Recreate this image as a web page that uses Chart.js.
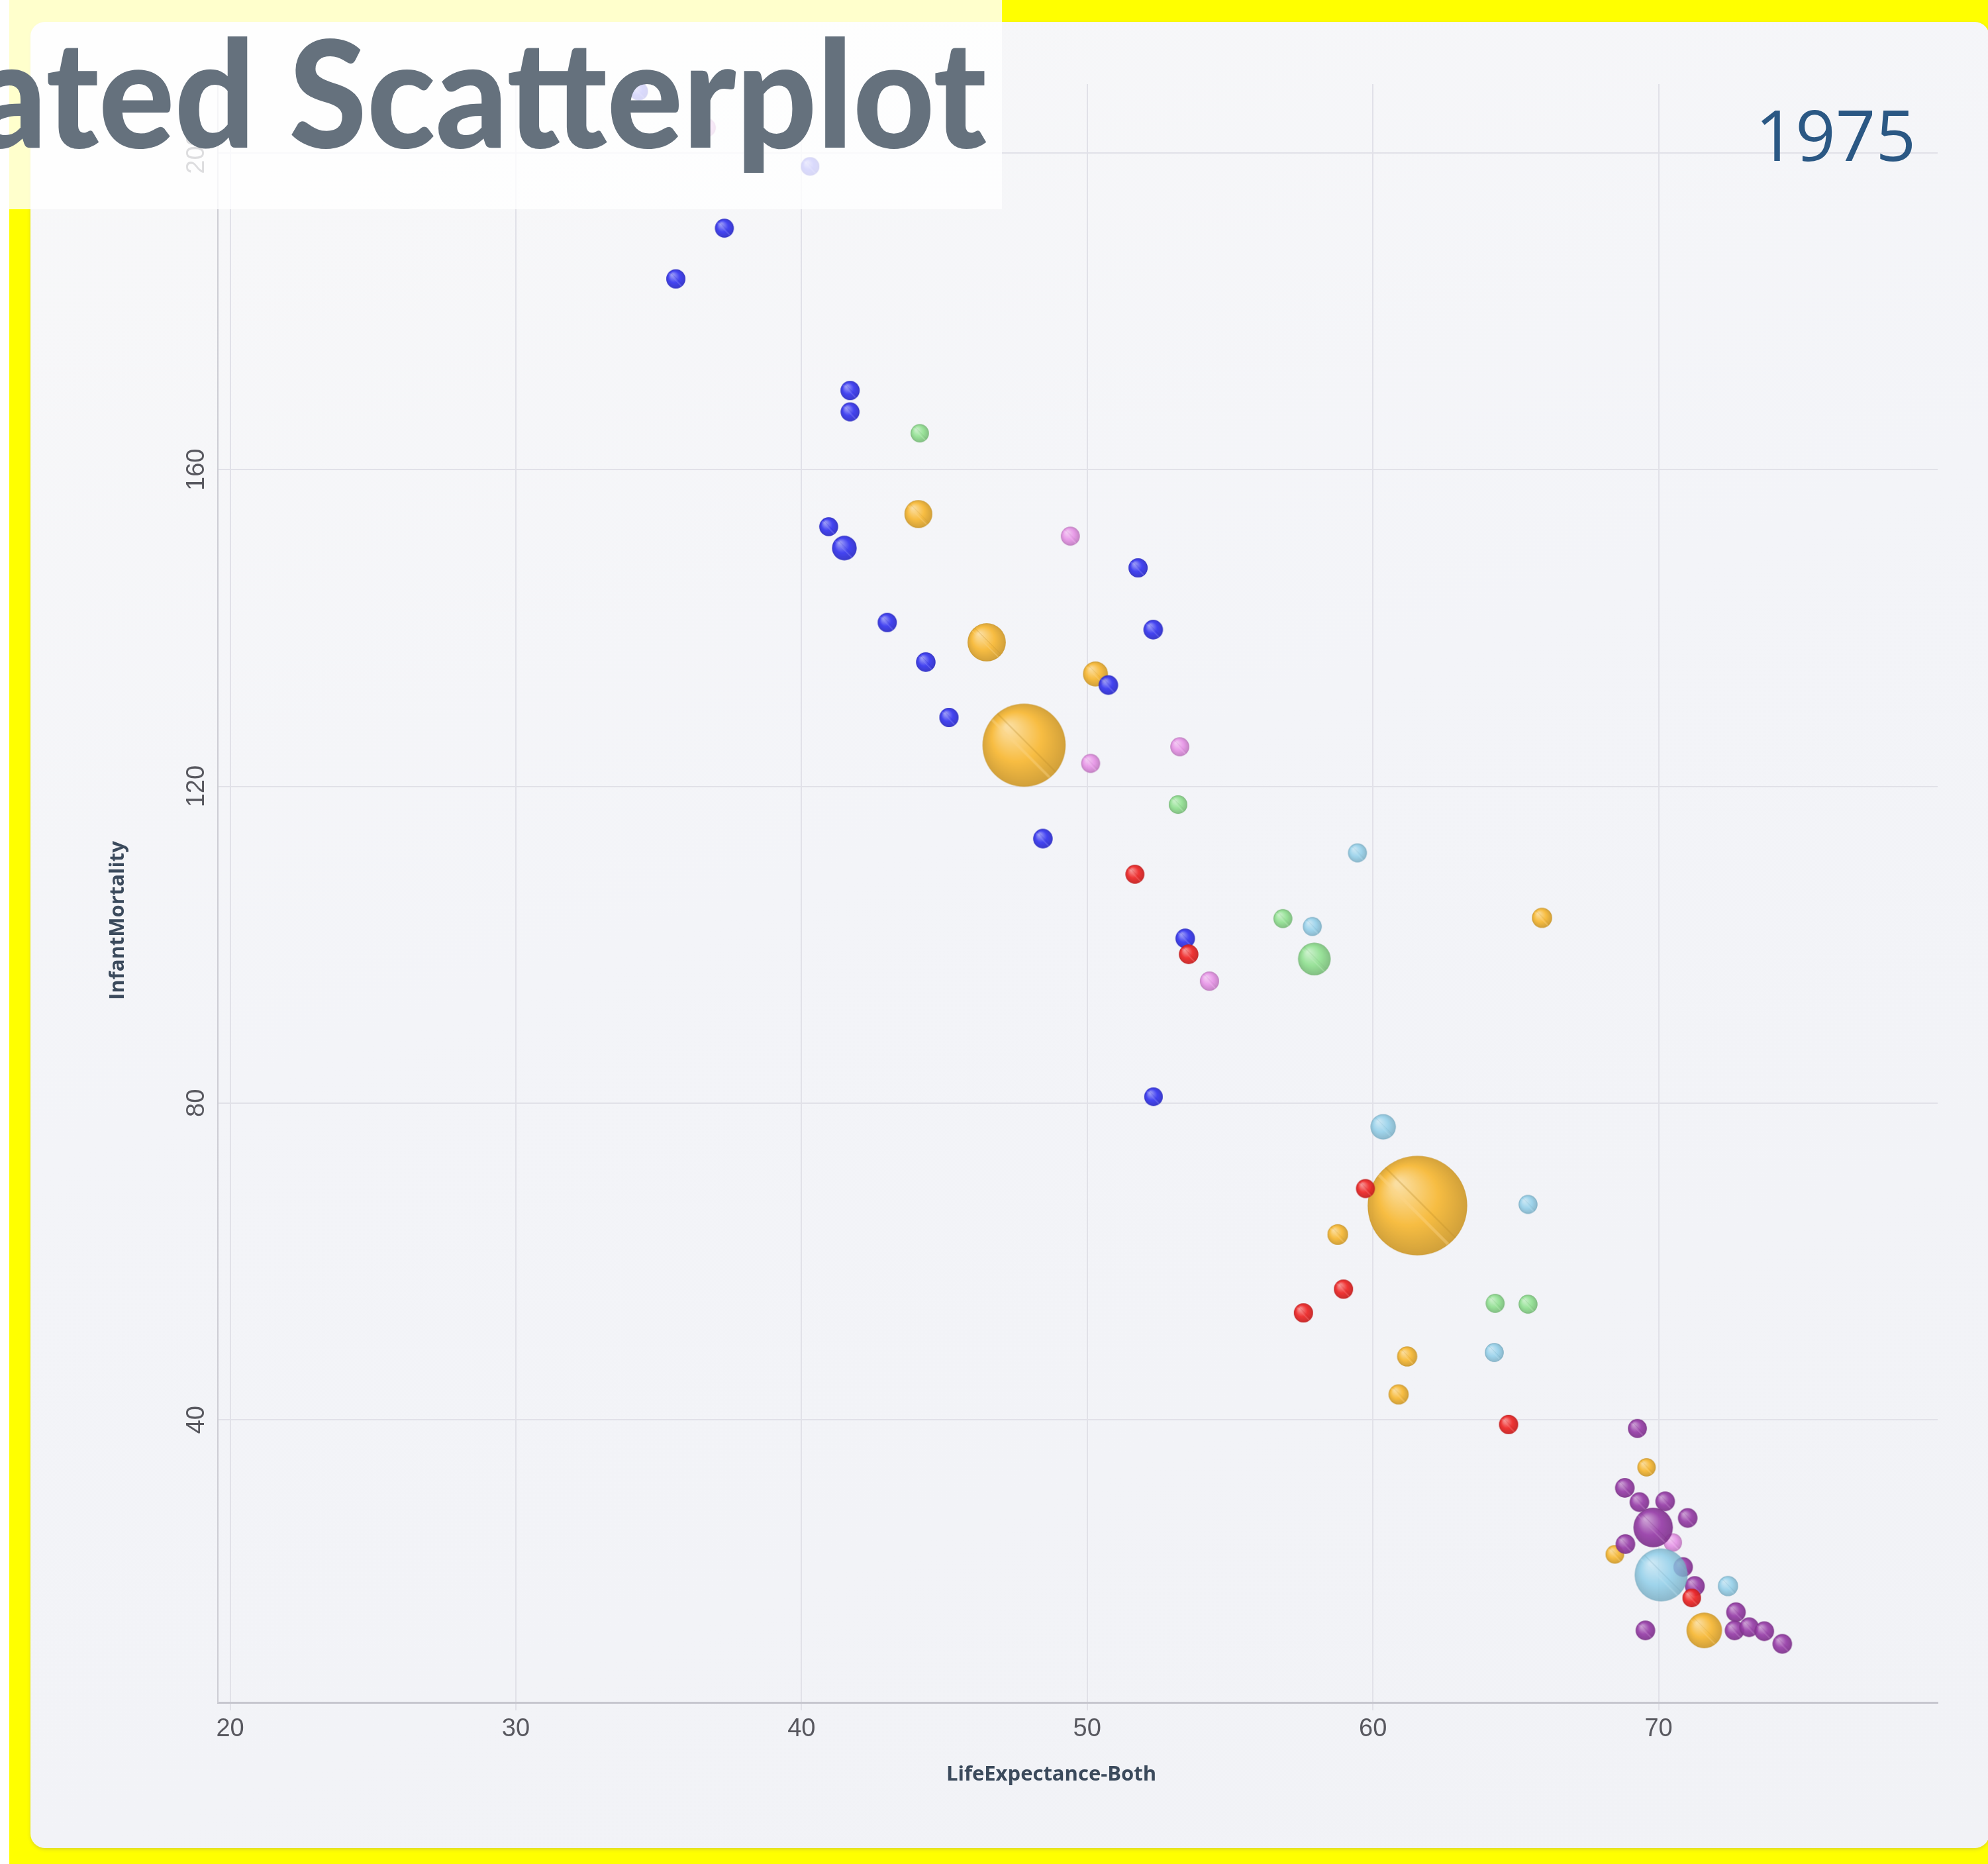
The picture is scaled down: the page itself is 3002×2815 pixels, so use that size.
<!DOCTYPE html>
<html>
<head>
<meta charset="utf-8">
<title>Animated Scatterplot</title>
<script src="https://cdn.jsdelivr.net/npm/chart.js@4.4.1/dist/chart.umd.min.js"></script>
<style>
  html, body { margin: 0; padding: 0; }
  body { width: 3002px; height: 2815px; position: relative; overflow: hidden; background: #fff; }
  #frame { position: absolute; left: 14px; top: 0; right: 0; bottom: 0; background: #ffff00; }
  #panel {
    position: absolute; left: 46px; top: 33px; width: 2958px; height: 2758px;
    border-radius: 22px;
    background: linear-gradient(160deg, #f8f8f9 0%, #f3f4f8 45%, #f1f2f6 100%);
    box-shadow: 0 2px 5px rgba(110, 90, 150, 0.25);
  }
  #chart { position: absolute; left: 0; top: 0; }
  #banner { position: absolute; left: 0; top: 0; }
</style>
</head>
<body>
<div id="frame"></div>
<div id="panel"></div>
<canvas id="chart" width="3002" height="2815"></canvas>
<svg id="banner" width="1513" height="316">
  <rect width="1513" height="316" fill="rgba(255,255,255,0.8)"/>
  <text id="bannerText" font-family="Lato" font-weight="900" font-size="226" fill="#65717d" text-anchor="end">Animated Scatterplot</text>
</svg>
<script>
// Axis ticks and the year on display
const xTicks = [20, 30, 40, 50, 60, 70];
const yTicks = [40, 80, 120, 160, 200];
const year = '1975';

// Per region: life expectancy, infant mortality, population (millions)
const africaLife = [34.3, 40.3, 37.3, 35.6, 41.7, 41.7, 40.95, 41.5, 43.0, 44.35, 45.16, 51.78, 52.31, 50.74, 48.45, 53.43, 52.32];
const africaMortality = [207.8, 198.3, 190.5, 184.1, 170.0, 167.3, 152.8, 150.1, 140.7, 135.7, 128.7, 147.6, 139.8, 132.8, 113.4, 100.8, 80.8];
const africaPop = [4, 4, 5, 6, 6, 5, 5, 27, 6, 7, 6, 6, 7, 7, 7, 7, 4];

const asiaLife = [44.09, 46.48, 50.29, 47.79, 61.56, 65.92, 58.77, 61.2, 60.9, 69.58, 68.47, 71.6];
const asiaMortality = [154.4, 138.2, 134.2, 125.2, 67.05, 103.4, 63.4, 48.0, 43.2, 34.0, 23.0, 13.4];
const asiaPop = [42, 102, 28, 581, 846, 9, 11, 9, 9, 3, 4, 84];

const southAmericaLife = [44.14, 53.18, 56.85, 57.95, 64.28, 65.43];
const southAmericaMortality = [164.6, 117.7, 103.3, 98.2, 54.7, 54.6];
const southAmericaPop = [3, 4, 5, 67, 5, 5];

const oceaniaLife = [36.67, 49.41, 50.12, 53.24, 54.28, 70.5];
const oceaniaMortality = [203.2, 151.6, 122.9, 125.0, 95.4, 24.5];
const oceaniaPop = [5, 5, 5, 5, 6, 3];

const middleEastLife = [51.67, 53.55, 59.74, 58.97, 57.57, 64.75, 71.16];
const middleEastMortality = [108.9, 98.8, 69.2, 56.5, 53.5, 39.4, 17.5];
const middleEastPop = [5, 7, 5, 6, 6, 6, 4];

const northAmericaLife = [59.46, 57.88, 60.36, 65.43, 64.25, 70.09, 72.43];
const northAmericaMortality = [111.6, 102.3, 77.0, 67.2, 48.5, 20.4, 19.0];
const northAmericaPop = [5, 5, 30, 5, 5, 220, 9];

const europeLife = [69.26, 68.82, 69.33, 70.23, 71.02, 69.81, 68.84, 70.86, 71.27, 72.71, 72.66, 73.17, 73.7, 74.33, 69.54];
const europeMortality = [38.9, 31.4, 29.6, 29.7, 27.6, 26.4, 24.3, 21.4, 19.0, 15.7, 13.4, 13.8, 13.3, 11.7, 13.4];
const europePop = [5, 7, 7, 7, 7, 110, 7, 7, 8, 7, 7, 7, 7, 7, 7];

// first entry is drawn on top
const regions = [
  { label: 'Middle East', color: [238, 42, 42], alpha: 0.95, life: middleEastLife, mort: middleEastMortality, pop: middleEastPop },
  { label: 'Africa', color: [58, 58, 240], alpha: 0.95, life: africaLife, mort: africaMortality, pop: africaPop },
  { label: 'North America', color: [140, 205, 232], alpha: 0.82, life: northAmericaLife, mort: northAmericaMortality, pop: northAmericaPop },
  { label: 'Europe', color: [152, 62, 168], alpha: 0.93, life: europeLife, mort: europeMortality, pop: europePop },
  { label: 'Oceania', color: [230, 148, 230], alpha: 0.93, life: oceaniaLife, mort: oceaniaMortality, pop: oceaniaPop },
  { label: 'South America', color: [146, 224, 146], alpha: 0.93, life: southAmericaLife, mort: southAmericaMortality, pop: southAmericaPop },
  { label: 'Asia', color: [247, 184, 52], alpha: 0.93, life: asiaLife, mort: asiaMortality, pop: asiaPop }
];

// bubble area grows with population, small countries keep a minimum size
function bubbleRadius(pop) {
  return Math.sqrt(169 + 6.45 * pop);
}

function mix(a, b, t) {
  return a.map((v, i) => Math.round(v + (b[i] - v) * t));
}
function rgba(c, a) {
  return `rgba(${c[0]},${c[1]},${c[2]},${a === undefined ? 1 : a})`;
}

// glossy ball sprites, cached by colour and size
const sprites = {};
function sphere(color, r, alpha) {
  const key = color.join() + '|' + r.toFixed(1);
  if (sprites[key]) return sprites[key];
  const c = document.createElement('canvas');
  c.width = c.height = Math.ceil(2 * r + 4);
  const g = c.getContext('2d');
  const cx = c.width / 2, cy = c.height / 2;
  g.globalAlpha = alpha;

  const body = g.createRadialGradient(cx - r * 0.4, cy - r * 0.45, r * 0.05, cx, cy, r * 1.05);
  body.addColorStop(0, rgba(mix(color, [255, 255, 255], 0.5)));
  body.addColorStop(0.55, rgba(color));
  body.addColorStop(1, rgba(mix(color, [0, 0, 0], 0.18)));
  g.beginPath();
  g.arc(cx, cy, r, 0, Math.PI * 2);
  g.fillStyle = body;
  g.fill();

  // diagonal sheen across the ball
  g.save();
  g.clip();
  g.lineWidth = Math.max(1.5, r * 0.06);
  g.strokeStyle = rgba(mix(color, [255, 255, 255], 0.4), 0.45);
  g.beginPath();
  g.moveTo(cx - r - r * 0.08, cy - r + r * 0.08);
  g.lineTo(cx + r - r * 0.08, cy + r + r * 0.08);
  g.stroke();
  g.lineWidth = Math.max(1, r * 0.035);
  g.strokeStyle = rgba(mix(color, [0, 0, 0], 0.25), 0.35);
  g.beginPath();
  g.moveTo(cx - r + r * 0.06, cy - r - r * 0.06);
  g.lineTo(cx + r + r * 0.06, cy + r - r * 0.06);
  g.stroke();
  g.restore();

  g.beginPath();
  g.arc(cx, cy, r - 0.5, 0, Math.PI * 2);
  g.lineWidth = 1.2;
  g.strokeStyle = rgba(mix(color, [0, 0, 0], 0.2), 0.45);
  g.stroke();

  sprites[key] = c;
  return c;
}

// axis titles and the year label
const axisText = {
  id: 'axisText',
  afterDraw(chart) {
    const { ctx, chartArea: a } = chart;
    ctx.save();
    ctx.fillStyle = '#3b4a5c';
    ctx.font = 'bold 31px "Open Sans"';
    ctx.textAlign = 'center';
    ctx.textBaseline = 'middle';
    ctx.fillText('LifeExpectance-Both', (a.left + a.right) / 2 - 40, a.bottom + 109);
    ctx.translate(a.left - 151, (a.top + a.bottom) / 2 + 41);
    ctx.rotate(-Math.PI / 2);
    ctx.fillText('InfantMortality', 0, 0);
    ctx.restore();

    ctx.save();
    ctx.font = '106px "Open Sans"';
    ctx.fillStyle = '#2b5884';
    ctx.textAlign = 'right';
    ctx.textBaseline = 'alphabetic';
    ctx.fillText(year, a.right - 33, a.top + 116);
    ctx.restore();
  }
};

const tickFont = { family: '"Liberation Sans", Arial, sans-serif', size: 38 };

new Chart(document.getElementById('chart'), {
  type: 'bubble',
  data: {
    datasets: regions.map(reg => ({
      label: reg.label,
      data: reg.life.map((x, i) => ({ x, y: reg.mort[i], r: bubbleRadius(reg.pop[i]) })),
      pointStyle: ctx => (ctx.raw ? sphere(reg.color, ctx.raw.r, reg.alpha) : 'circle'),
      backgroundColor: rgba(reg.color)
    }))
  },
  options: {
    responsive: false,
    animation: false,
    layout: { padding: { left: 0, top: 127, right: 72, bottom: 94 } },
    plugins: { legend: { display: false }, tooltip: { enabled: false } },
    scales: {
      x: {
        type: 'linear',
        min: 19.57,
        max: 79.77,
        afterBuildTicks: s => { s.ticks = xTicks.map(v => ({ value: v })); },
        afterFit: s => { s.height = 150; },
        grid: { color: '#e1e1e8', lineWidth: 2, tickLength: 12 },
        border: { color: '#c6c6ce', width: 3 },
        ticks: { color: '#58585f', font: tickFont, padding: 6, maxRotation: 0 }
      },
      y: {
        type: 'linear',
        min: 4.3,
        max: 208.7,
        afterBuildTicks: s => { s.ticks = yTicks.map(v => ({ value: v })); },
        afterFit: s => { s.width = 329; },
        grid: { color: '#e1e1e8', lineWidth: 2, drawTicks: false },
        border: { color: '#cdcdd4', width: 2 },
        ticks: { color: '#58585f', font: tickFont, padding: 0, minRotation: 90, maxRotation: 90, crossAlign: 'center' }
      }
    }
  },
  plugins: [axisText]
});

// squeeze the banner title so the tail of it spans the box
const banner = document.getElementById('bannerText');
const probe = document.createElement('canvas').getContext('2d');
probe.font = '900 226px Lato';
const visible = probe.measureText('ated Scatterplot').width - 0.35 * probe.measureText('a').width;
const squeeze = 1490 / visible;
banner.setAttribute('transform', `translate(1490 223) scale(${squeeze.toFixed(3)} 1)`);
</script>
</body>
</html>
